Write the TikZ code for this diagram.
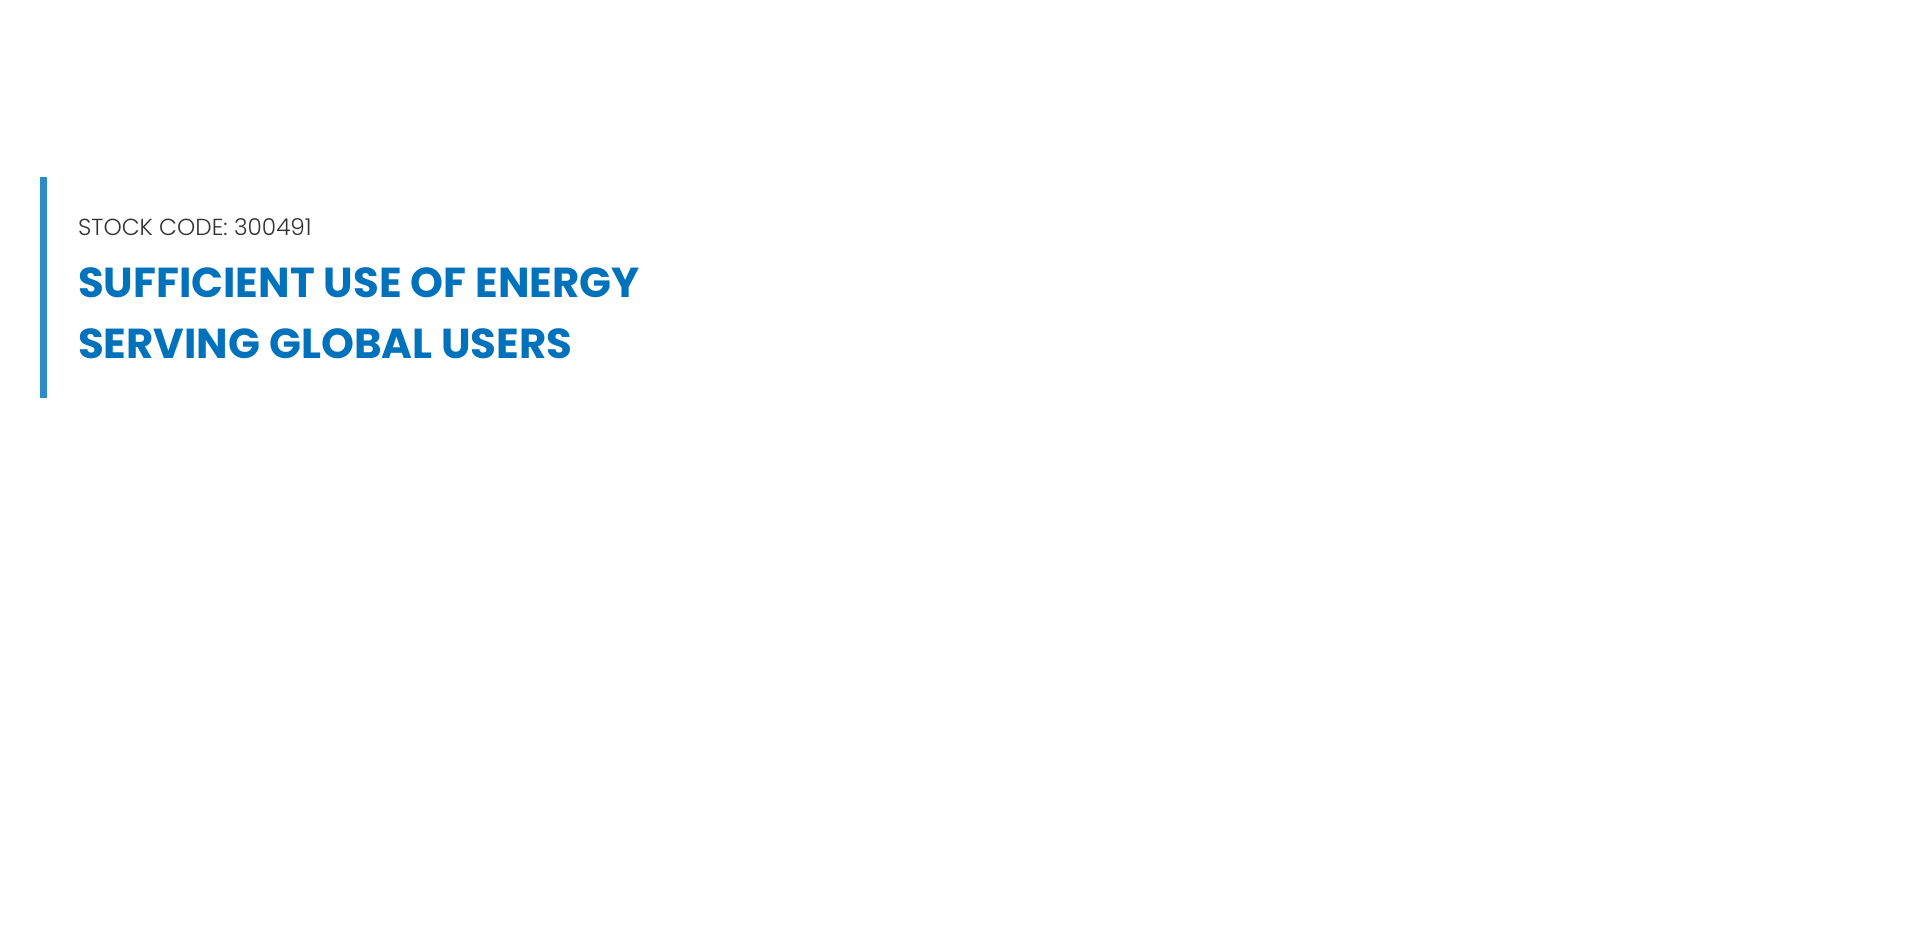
\documentclass[tikz,border=0pt]{standalone}
\usepackage{fontspec}
\setmainfont{Poppins}
\newfontfamily\poplight{Poppins Light}
\definecolor{barblue}{HTML}{2E8BC9}
\definecolor{titleblue}{HTML}{0072BC}
\definecolor{codegray}{HTML}{333333}
\begin{document}
\begin{tikzpicture}[x=1pt,y=-1pt,
  codetext/.style={anchor=base west,inner sep=0pt,text=codegray,font=\poplight\fontsize{23.2}{28}\selectfont},
  titletext/.style={anchor=base west,inner sep=0pt,text=titleblue,font=\bfseries\fontsize{41.9}{52}\selectfont}]
\useasboundingbox[fill=white] (0,0) rectangle (1920,946);
\fill[barblue] (40,177) rectangle (47,398);
\node[codetext] (code) at (78,235) {STOCK CODE: 300491};
\node[titletext] (t1) at (78,297.5) {SUFFICIENT USE OF ENERGY};
\node[titletext] (t2) at (78,358) {SERVING GLOBAL USERS};
\end{tikzpicture}
\end{document}
